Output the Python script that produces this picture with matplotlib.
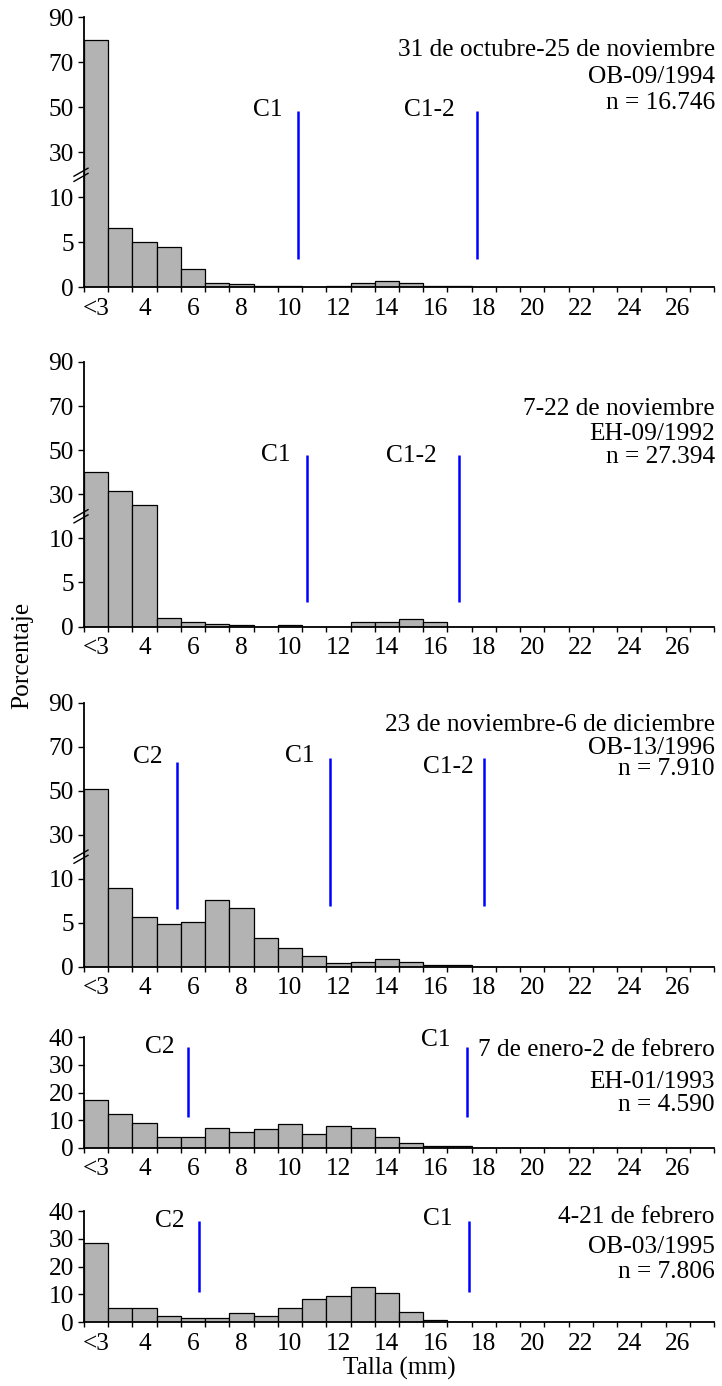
import numpy as np
import matplotlib
matplotlib.use("Agg")
import matplotlib.pyplot as plt
from matplotlib.lines import Line2D
from matplotlib.transforms import IdentityTransform

plt.rcParams['font.family'] = ['Liberation Serif', 'DejaVu Serif']

# ---------------- data ----------------
size_classes = ['<3'] + [str(v) for v in range(3, 28)]          # 26 size classes (mm)
xtick_labels = ['<3'] + [str(v) for v in range(4, 27, 2)]        # labelled classes

pct_ob09_1994 = [80.0, 6.6, 5.0, 4.5, 2.0, 0.5, 0.33, 0.18, 0.18, 0.0, 0.18, 0.5, 0.67, 0.5, 0.18, 0.18]
pct_eh09_1992 = [40.3, 31.3, 25.1, 1.0, 0.5, 0.3, 0.2, 0.0, 0.2, 0.0, 0.0, 0.5, 0.5, 0.8, 0.5]
pct_ob13_1996 = [51.0, 9.0, 5.7, 4.8, 5.1, 7.6, 6.7, 3.3, 2.1, 1.2, 0.4, 0.55, 0.9, 0.55, 0.25, 0.2]
pct_eh01_1993 = [17.3, 12.2, 9.1, 4.1, 4.1, 7.3, 5.8, 7.0, 8.5, 5.2, 8.0, 7.3, 4.1, 1.9, 0.8, 0.8]
pct_ob03_1995 = [28.4, 5.0, 5.0, 2.4, 1.7, 1.7, 3.5, 2.4, 5.0, 8.4, 9.6, 12.8, 10.7, 3.8, 0.7]

titles = [
    ["31 de octubre-25 de noviembre", "OB-09/1994", "n = 16.746"],
    ["7-22 de noviembre", "EH-09/1992", "n = 27.394"],
    ["23 de noviembre-6 de diciembre", "OB-13/1996", "n = 7.910"],
    ["7 de enero-2 de febrero", "EH-01/1993", "n = 4.590"],
    ["4-21 de febrero", "OB-03/1995", "n = 7.806"],
]

# cohort markers: (label, size in mm, y from, y to)
cohorts_ob09_1994 = [("C1", 10.34, 3.1, 48.5), ("C1-2", 17.7, 3.1, 48.5)]
cohorts_eh09_1992 = [("C1", 10.69, 2.8, 48.0), ("C1-2", 16.98, 2.8, 48.0)]
cohorts_ob13_1996 = [("C2", 5.33, 6.6, 63.0), ("C1", 11.65, 6.9, 64.8), ("C1-2", 18.0, 6.9, 64.8)]
cohorts_eh01_1993 = [("C2", 5.8, 11.0, 36.5), ("C1", 17.32, 11.0, 36.5)]
cohorts_ob03_1995 = [("C2", 6.25, 10.9, 36.4), ("C1", 17.4, 10.9, 36.4)]

broken_ticks = [0, 5, 10, 30, 50, 70, 90]
linear_ticks = [0, 10, 20, 30, 40]

series = [pct_ob09_1994, pct_eh09_1992, pct_ob13_1996, pct_eh01_1993, pct_ob03_1995]
cohorts = [cohorts_ob09_1994, cohorts_eh09_1992, cohorts_ob13_1996, cohorts_eh01_1993, cohorts_ob03_1995]

# ---------------- layout ----------------
W, H = 722, 1386
fig = plt.figure(figsize=(W / 100, H / 100), dpi=100)
L, R = 84, 714
panel_px = [(17.3, 287.3), (362, 626.5), (702.7, 966.7), (1037, 1148), (1211, 1322.3)]
broken = [True, True, True, False, False]

title_y_px = [(50, 77, 103), (409, 434, 457), (725, 748, 769), (1050, 1082, 1105), (1217, 1247, 1272)]
label_px = [
    [(283, 110), (455, 110)],
    [(291, 455), (437, 456)],
    [(163, 757), (315, 756), (474, 767)],
    [(174, 1047), (451, 1040)],
    [(185, 1221), (453, 1219)],
]

FS = 18.3
BAR_COLOR = '#b3b3b3'
BLUE = '#0000ff'


def fwd(y):
    y = np.asarray(y, dtype=float)
    return np.where(y <= 10, y, 10 + (y - 10) / 4.0)


def inv(u):
    u = np.asarray(u, dtype=float)
    return np.where(u <= 10, u, 10 + (u - 10) * 4.0)


def fx(x):
    return x / W


def fy(y):
    return 1 - y / H


n = len(size_classes)
xpos = np.arange(n)

for i in range(5):
    top, bot = panel_px[i]
    ax = fig.add_axes([fx(L), fy(bot), (R - L) / W, (bot - top) / H])
    vals = np.zeros(n)
    vals[:len(series[i])] = series[i]
    if broken[i]:
        ax.set_yscale('function', functions=(fwd, inv))
        ax.set_ylim(0, 90)
        ax.set_yticks(broken_ticks)
        ax.set_yticklabels([str(t) for t in broken_ticks])
    else:
        ax.set_ylim(0, 40)
        ax.set_yticks(linear_ticks)
        ax.set_yticklabels([str(t) for t in linear_ticks])
    ax.bar(xpos, vals, width=1.0, color=BAR_COLOR, edgecolor='black', linewidth=0.9, zorder=2)
    ax.set_xlim(-0.5, n - 0.5)

    # x ticks: marks at class edges, labels at every other class centre
    ax.set_xticks(np.arange(-0.5, n, 1.0))
    ax.set_xticklabels([])
    label_idx = [size_classes.index(lbl) for lbl in xtick_labels]
    ax.set_xticks(label_idx, minor=True)
    ax.set_xticklabels(xtick_labels, minor=True)
    ax.tick_params(axis='x', which='major', direction='out', length=3.8, width=1.0)
    ax.tick_params(axis='x', which='minor', length=0, labelsize=FS, pad=7.5)
    ax.tick_params(axis='y', which='major', direction='out', length=4.3, width=1.0, labelsize=FS, pad=3)
    ax.tick_params(axis='y', which='minor', left=False)

    for s in ('top', 'right'):
        ax.spines[s].set_visible(False)
    for s in ('left', 'bottom'):
        ax.spines[s].set_linewidth(1.3)
        ax.spines[s].set_zorder(3)

    # cohort lines (x in mm -> class index = mm - 2)
    for (lbl, mm, y0, y1), (lx, ly) in zip(cohorts[i], label_px[i]):
        ax.plot([mm - 2, mm - 2], [y0, y1], color=BLUE, lw=1.8, zorder=4, solid_capstyle='butt')
        fig.text(fx(lx), fy(ly), lbl, ha='right', va='center', fontsize=FS)

    # panel annotation
    for txt, ty in zip(titles[i], title_y_px[i]):
        fig.text(fx(R + 1), fy(ty), txt, ha='right', va='center', fontsize=FS)

    # axis break marks
    if broken[i]:
        fig.canvas.draw()
        _, yb = ax.transData.transform((0, 20))
        xb = L - 3
        for d in (-2.6, 2.6):
            fig.add_artist(Line2D([xb - 7, xb + 7], [yb + d - 4, yb + d + 4],
                                  transform=IdentityTransform(), color='black', lw=1.0))

fig.text(fx(399), fy(1368), 'Talla (mm)', ha='center', va='center', fontsize=FS)
fig.text(fx(22), fy(655), 'Porcentaje', ha='center', va='center', rotation=90, fontsize=FS)

fig.savefig('out.png', dpi=100)
